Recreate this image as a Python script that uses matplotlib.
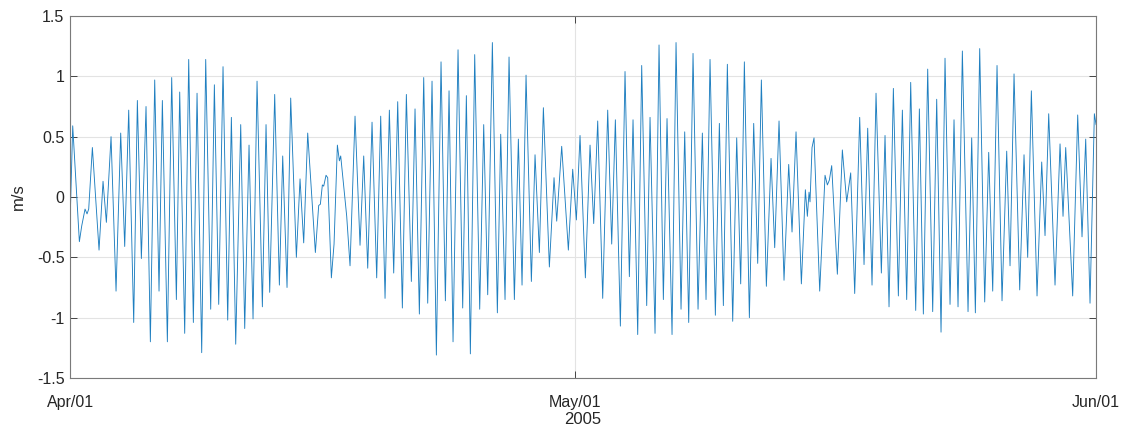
import matplotlib
matplotlib.use("Agg")
import matplotlib.pyplot as plt
import matplotlib.dates as mdates
import pandas as pd

# Current speed extrema (days since 2005-04-01, m/s)
days = [
    0.000, 0.159, 0.555, 0.694, 0.892, 1.011, 1.110, 1.328, 1.724, 1.962,
    2.160, 2.438, 2.735, 3.012, 3.250, 3.488, 3.785, 4.003, 4.241, 4.518,
    4.776, 5.034, 5.291, 5.489, 5.787, 6.044, 6.322, 6.520, 6.817, 7.055,
    7.332, 7.551, 7.828, 8.066, 8.363, 8.581, 8.839, 9.096, 9.374, 9.592,
    9.850, 10.147, 10.385, 10.642, 10.880, 11.118, 11.435, 11.653, 11.871, 12.168,
    12.446, 12.644, 12.901, 13.119, 13.456, 13.674, 13.892, 14.130, 14.586, 14.784,
    14.883, 15.002, 15.081, 15.220, 15.319, 15.537, 15.696, 15.894, 16.013, 16.092,
    16.449, 16.647, 16.944, 17.241, 17.460, 17.698, 17.955, 18.232, 18.470, 18.728,
    18.985, 19.243, 19.481, 19.758, 19.996, 20.293, 20.511, 20.769, 21.027, 21.265,
    21.522, 21.780, 22.057, 22.315, 22.533, 22.771, 23.068, 23.345, 23.563, 23.801,
    24.059, 24.356, 24.594, 24.832, 25.109, 25.406, 25.605, 25.862, 26.100, 26.417,
    26.655, 26.873, 27.111, 27.428, 27.646, 27.904, 28.142, 28.498, 28.775, 28.934,
    29.231, 29.627, 29.885, 30.103, 30.321, 30.638, 30.916, 31.134, 31.372, 31.669,
    31.966, 32.204, 32.422, 32.719, 32.996, 33.254, 33.472, 33.750, 33.987, 34.285,
    34.483, 34.780, 35.018, 35.275, 35.493, 35.791, 36.029, 36.326, 36.544, 36.782,
    37.039, 37.337, 37.594, 37.812, 38.050, 38.367, 38.605, 38.843, 39.080, 39.398,
    39.636, 39.873, 40.091, 40.389, 40.646, 40.884, 41.102, 41.399, 41.677, 41.895,
    42.152, 42.449, 42.727, 42.925, 43.163, 43.480, 43.718, 43.837, 43.936, 43.995,
    44.114, 44.233, 44.570, 44.887, 45.026, 45.144, 45.283, 45.620, 45.917, 46.175,
    46.413, 46.651, 46.948, 47.206, 47.424, 47.681, 47.919, 48.236, 48.454, 48.692,
    48.950, 49.247, 49.485, 49.742, 49.980, 50.278, 50.496, 50.733, 50.991, 51.288,
    51.526, 51.784, 52.021, 52.319, 52.556, 52.794, 53.052, 53.389, 53.607, 53.825,
    54.083, 54.380, 54.618, 54.856, 55.113, 55.410, 55.688, 55.886, 56.124, 56.461,
    56.718, 56.936, 57.154, 57.491, 57.769, 57.967, 58.185, 58.561, 58.859, 59.037,
    59.196, 59.611, 59.909, 60.166, 60.385, 60.642, 60.900, 61.000,
]
speed = [
    -0.22, 0.59, -0.37, -0.24, -0.10, -0.14, -0.10, 0.41, -0.44, 0.13,
    -0.21, 0.50, -0.78, 0.53, -0.41, 0.72, -1.04, 0.80, -0.51, 0.75,
    -1.20, 0.97, -0.78, 0.80, -1.20, 0.99, -0.85, 0.87, -1.13, 1.14,
    -1.04, 0.86, -1.29, 1.14, -0.93, 0.93, -0.89, 1.08, -1.02, 0.66,
    -1.22, 0.60, -1.09, 0.43, -1.01, 0.96, -0.91, 0.60, -0.79, 0.85,
    -0.73, 0.34, -0.75, 0.82, -0.50, 0.15, -0.38, 0.53, -0.46, -0.07,
    -0.06, 0.10, 0.09, 0.18, 0.16, -0.67, -0.39, 0.43, 0.30, 0.34,
    -0.16, -0.57, 0.67, -0.40, 0.34, -0.59, 0.62, -0.67, 0.67, -0.84,
    0.72, -0.63, 0.79, -0.92, 0.85, -0.70, 0.73, -0.97, 0.99, -0.88,
    0.96, -1.31, 1.12, -0.86, 0.88, -1.20, 1.22, -0.92, 0.84, -1.30,
    1.18, -0.93, 0.60, -0.81, 1.28, -0.96, 0.52, -0.85, 1.16, -0.85,
    0.48, -0.73, 1.01, -0.70, 0.35, -0.46, 0.74, -0.58, 0.16, -0.20,
    0.42, -0.44, 0.23, -0.19, 0.51, -0.67, 0.43, -0.22, 0.63, -0.84,
    0.72, -0.39, 0.64, -1.07, 1.04, -0.66, 0.64, -1.14, 1.09, -0.90,
    0.66, -1.13, 1.26, -0.85, 0.65, -1.14, 1.28, -0.93, 0.54, -1.04,
    1.19, -0.93, 0.53, -0.85, 1.14, -0.98, 0.61, -0.90, 1.10, -1.03,
    0.49, -0.72, 1.12, -1.00, 0.61, -0.55, 0.97, -0.74, 0.32, -0.42,
    0.63, -0.69, 0.27, -0.29, 0.54, -0.72, 0.06, -0.16, 0.04, -0.04,
    0.41, 0.49, -0.78, 0.18, 0.10, 0.14, 0.26, -0.64, 0.39, -0.04,
    0.20, -0.80, 0.66, -0.56, 0.57, -0.73, 0.86, -0.63, 0.51, -0.91,
    0.90, -0.82, 0.72, -0.85, 0.95, -0.94, 0.73, -0.97, 1.06, -0.95,
    0.81, -1.12, 1.15, -0.89, 0.64, -0.91, 1.21, -0.95, 0.49, -0.96,
    1.23, -0.87, 0.37, -0.78, 1.09, -0.86, 0.38, -0.57, 1.02, -0.77,
    0.35, -0.50, 0.88, -0.82, 0.29, -0.32, 0.69, -0.73, 0.44, -0.16,
    0.41, -0.82, 0.68, -0.33, 0.48, -0.88, 0.69, 0.60,
]

start = pd.Timestamp("2005-04-01")
times = start + pd.to_timedelta(days, unit="D")
tick_dates = [pd.Timestamp("2005-04-01"), pd.Timestamp("2005-05-01"), pd.Timestamp("2005-06-01")]
y_ticks = [-1.5, -1, -0.5, 0, 0.5, 1, 1.5]
y_tick_labels = ["-1.5", "-1", "-0.5", "0", "0.5", "1", "1.5"]

plt.rcParams['font.family'] = ['Liberation Sans', 'DejaVu Sans']
text_color = '#262626'

fig = plt.figure(figsize=(11.26, 4.26), dpi=100)
ax = fig.add_axes([0.0622, 0.1127, 0.9112, 0.8497])

ax.plot(times, speed, color='#1f7fc0', linewidth=0.65)

ax.set_xlim(tick_dates[0], tick_dates[-1])
ax.set_ylim(-1.5, 1.5)
ax.set_xticks(tick_dates)
ax.xaxis.set_major_formatter(mdates.DateFormatter('%b/%d'))
ax.set_yticks(y_ticks)
ax.set_yticklabels(y_tick_labels)

ax.grid(True, color='#e3e3e3', linewidth=0.8)
ax.set_axisbelow(True)
ax.tick_params(direction='in', top=True, right=True, length=5, width=0.7,
               colors='#444444', labelcolor=text_color, labelsize=11.5)
ax.tick_params(axis='x', pad=12)
ax.tick_params(axis='y', pad=4)
for s in ax.spines.values():
    s.set_color('#7a7a7a')
    s.set_linewidth(0.8)

ax.set_ylabel("m/s", fontsize=12, color=text_color, labelpad=8)
ax.set_xlabel("2005", fontsize=12, color=text_color, labelpad=2)

fig.savefig("out.png", dpi=100)
